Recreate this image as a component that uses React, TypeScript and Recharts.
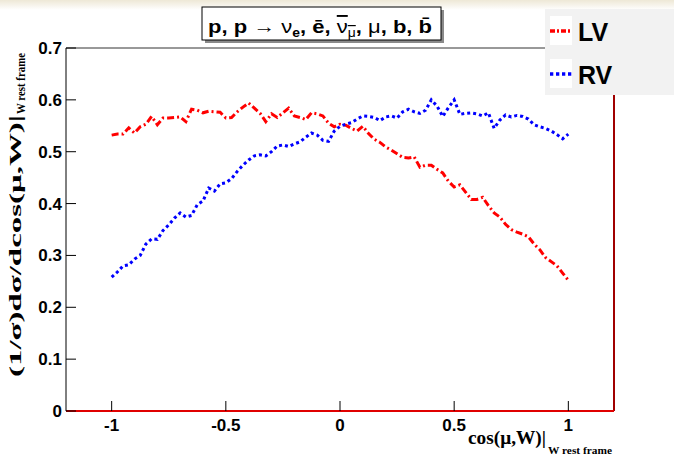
import React from 'react';
import { LineChart, Line, XAxis, YAxis, ReferenceLine, Legend, Customized } from 'recharts';

const cosValues = [-1, -0.975, -0.95, -0.925, -0.9, -0.875, -0.85, -0.825, -0.8, -0.775, -0.75, -0.725, -0.7, -0.675, -0.65, -0.625, -0.6, -0.575, -0.55, -0.525, -0.5, -0.475, -0.45, -0.425, -0.4, -0.375, -0.35, -0.325, -0.3, -0.275, -0.25, -0.225, -0.2, -0.175, -0.15, -0.125, -0.1, -0.075, -0.05, -0.025, 0, 0.025, 0.05, 0.075, 0.1, 0.125, 0.15, 0.175, 0.2, 0.225, 0.25, 0.275, 0.3, 0.325, 0.35, 0.375, 0.4, 0.425, 0.45, 0.475, 0.5, 0.525, 0.55, 0.575, 0.6, 0.625, 0.65, 0.675, 0.7, 0.725, 0.75, 0.775, 0.8, 0.825, 0.85, 0.875, 0.9, 0.925, 0.95, 0.975, 1];

const lvValues = [0.532, 0.534, 0.534, 0.546, 0.536, 0.548, 0.553, 0.568, 0.552, 0.565, 0.565, 0.566, 0.567, 0.558, 0.582, 0.58, 0.575, 0.578, 0.577, 0.576, 0.565, 0.566, 0.577, 0.586, 0.594, 0.584, 0.574, 0.558, 0.573, 0.566, 0.575, 0.584, 0.569, 0.566, 0.562, 0.575, 0.573, 0.569, 0.555, 0.548, 0.553, 0.551, 0.545, 0.54, 0.549, 0.535, 0.524, 0.518, 0.509, 0.503, 0.496, 0.489, 0.488, 0.49, 0.47, 0.474, 0.474, 0.466, 0.459, 0.443, 0.432, 0.436, 0.422, 0.408, 0.408, 0.412, 0.396, 0.382, 0.374, 0.36, 0.35, 0.345, 0.341, 0.336, 0.322, 0.311, 0.296, 0.288, 0.28, 0.266, 0.252];

const rvValues = [0.258, 0.268, 0.28, 0.282, 0.293, 0.3, 0.322, 0.332, 0.331, 0.348, 0.359, 0.372, 0.382, 0.374, 0.377, 0.398, 0.405, 0.43, 0.424, 0.438, 0.44, 0.448, 0.462, 0.474, 0.484, 0.492, 0.494, 0.492, 0.5, 0.511, 0.513, 0.51, 0.515, 0.519, 0.528, 0.536, 0.532, 0.522, 0.52, 0.54, 0.549, 0.553, 0.556, 0.563, 0.569, 0.568, 0.566, 0.56, 0.567, 0.569, 0.565, 0.577, 0.582, 0.577, 0.574, 0.58, 0.6, 0.588, 0.568, 0.585, 0.6, 0.572, 0.574, 0.575, 0.573, 0.569, 0.575, 0.545, 0.561, 0.571, 0.567, 0.57, 0.568, 0.563, 0.552, 0.548, 0.545, 0.54, 0.533, 0.525, 0.534];

const xTicks = [-1, -0.5, 0, 0.5, 1];
const xTickLabels = ['-1', '-0.5', '0', '0.5', '1'];
const xMinorTicks = [-1.1, -1, -0.9, -0.8, -0.7, -0.6, -0.5, -0.4, -0.3, -0.2, -0.1, 0, 0.1, 0.2, 0.3, 0.4, 0.5, 0.6, 0.7, 0.8, 0.9, 1, 1.1];
const yTicks = [0, 0.1, 0.2, 0.3, 0.4, 0.5, 0.6, 0.7];
const yTickLabels = ['0', '0.1', '0.2', '0.3', '0.4', '0.5', '0.6', '0.7'];
const yMinorTicks = [0, 0.02, 0.04, 0.06, 0.08, 0.1, 0.12, 0.14, 0.16, 0.18, 0.2, 0.22, 0.24, 0.26, 0.28, 0.3, 0.32, 0.34, 0.36, 0.38, 0.4, 0.42, 0.44, 0.46, 0.48, 0.5, 0.52, 0.54, 0.56, 0.58, 0.6, 0.62, 0.64, 0.66, 0.68, 0.7];

const data = cosValues.map((c, i) => ({ cos: c, LV: lvValues[i], RV: rvValues[i] }));

const SANS = '"Liberation Sans", Arial, Helvetica, sans-serif';
const SERIF = '"Liberation Serif", "Times New Roman", "DejaVu Serif", serif';

const XTick = (props: any) => {
  const { x, y, payload } = props;
  const idx = xTicks.indexOf(payload.value);
  return (
    <text x={x} y={y} dy={30} textAnchor="middle" fontFamily={SANS} fontWeight="bold" fontSize={17} fill="#000">
      {idx >= 0 ? xTickLabels[idx] : String(payload.value)}
    </text>
  );
};

const YTick = (props: any) => {
  const { x, y, payload } = props;
  const idx = yTicks.indexOf(payload.value);
  return (
    <text x={x} y={y} dx={-14} dy={6} textAnchor="end" fontFamily={SANS} fontWeight="bold" fontSize={17} fill="#000">
      {idx >= 0 ? yTickLabels[idx] : String(payload.value)}
    </text>
  );
};

const LegendContent = (props: any) => {
  const payload = props.payload || [];
  return (
    <div style={{ width: 129, height: 86, background: '#f2f2f2' }}>
      <svg width={129} height={86}>
        {payload.map((p: any, i: number) => (
          <g key={p.value} transform={`translate(0, ${i * 43})`}>
            <rect x={5} y={7} width={22} height={29} fill="#ffffff" />
            <line x1={5} x2={27} y1={22} y2={22} stroke={p.color} strokeWidth={3.5}
              strokeDasharray={p.value === 'LV' ? '5 2 2 2' : '3.3 2.7'} />
            <text x={33} y={32} fontFamily={SANS} fontWeight="bold" fontSize={25} fill="#000">{p.value}</text>
          </g>
        ))}
      </svg>
    </div>
  );
};

const Overlay = () => (
  <g>
    <rect x={205} y={10} width={239} height={33} fill="#8a8a8a" />
    <rect x={202} y={7} width={239} height={33} fill="#ffffff" stroke="#000" strokeWidth={1} />
    <text x={208} y={33} fontFamily={SANS} fontWeight="bold" fontSize={19} fill="#000" textLength={224} lengthAdjust="spacingAndGlyphs">
      <tspan>p, p </tspan>
      <tspan fontWeight="normal">{'\u2192 \u03BD'}</tspan>
      <tspan fontSize={12} dy={4}>e</tspan>
      <tspan dy={-4}>, {'\u0113'}, </tspan>
      <tspan fontWeight="normal" style={{ textDecoration: 'overline' }}>{'\u03BD'}</tspan>
      <tspan fontWeight="normal" fontSize={12} dy={4} style={{ textDecoration: 'overline' }}>{'\u03BC'}</tspan>
      <tspan dy={-4}>, </tspan>
      <tspan fontWeight="normal">{'\u03BC'}</tspan>
      <tspan>, b, b{'\u0304'}</tspan>
    </text>
    <text transform="rotate(-90)" x={-377} y={21} fontFamily={SERIF} fontWeight="bold" fontSize={16} fill="#000" textLength={262} lengthAdjust="spacingAndGlyphs">
      (1/{'\u03C3'})d{'\u03C3'}/dcos({'\u03BC'},W)|
    </text>
    <text transform="rotate(-90)" x={-114} y={25} fontFamily={SERIF} fontWeight="bold" fontSize={12} fill="#000" textLength={61} lengthAdjust="spacingAndGlyphs">
      W rest frame
    </text>
    <text x={468} y={444} fontFamily={SERIF} fontWeight="bold" fontSize={18} fill="#000" textLength={78} lengthAdjust="spacingAndGlyphs">
      cos({'\u03BC'},W)|
    </text>
    <text x={548} y={454} fontFamily={SERIF} fontWeight="bold" fontSize={11} fill="#000" textLength={64} lengthAdjust="spacingAndGlyphs">
      W rest frame
    </text>
  </g>
);

export default function App() {
  return (
    <div style={{ position: 'absolute', left: 0, top: 0, width: 674, height: 458, background: 'linear-gradient(#eee8d6 0px, #f6f3ea 5px, #ffffff 10px)' }}>
      <LineChart width={674} height={458} data={data} margin={{ top: 48, right: 60, bottom: 0, left: 0 }}>
        <XAxis xAxisId="minor" dataKey="cos" type="number" domain={[-1.2, 1.2]} allowDataOverflow
          ticks={xMinorTicks} tick={false} tickSize={-5} axisLine={false} height={0}
          tickLine={{ stroke: '#000', strokeWidth: 1 }} />
        <XAxis dataKey="cos" type="number" domain={[-1.2, 1.2]} allowDataOverflow ticks={xTicks}
          tickSize={-10} tickMargin={0} height={47} interval={0}
          axisLine={{ stroke: '#e00000', strokeWidth: 2 }} tickLine={{ stroke: '#000', strokeWidth: 1 }} tick={<XTick />} />
        <YAxis yAxisId="minor" type="number" domain={[0, 0.7]} allowDataOverflow ticks={yMinorTicks}
          tick={false} tickSize={-5} axisLine={false} width={0} tickLine={{ stroke: '#000', strokeWidth: 1 }} />
        <YAxis type="number" domain={[0, 0.7]} allowDataOverflow ticks={yTicks} tickSize={-10} tickMargin={0}
          width={66} interval={0} axisLine={{ stroke: '#000', strokeWidth: 1 }} tickLine={{ stroke: '#000', strokeWidth: 1 }} tick={<YTick />} />
        <ReferenceLine y={0.7} stroke="#333" strokeWidth={1} />
        <ReferenceLine x={1.2} stroke="#a00000" strokeWidth={2} />
        <Line dataKey="LV" name="LV" type="linear" stroke="#ff0000" strokeWidth={3} strokeDasharray="7 3 2 3" dot={false} isAnimationActive={false} />
        <Line dataKey="RV" name="RV" type="linear" stroke="#0000ff" strokeWidth={3} strokeDasharray="3 3" dot={false} isAnimationActive={false} />
        <Legend layout="vertical" align="center" verticalAlign="middle" content={<LegendContent />}
          wrapperStyle={{ position: 'absolute', left: 545, top: 9, width: 129, height: 86 }} />
        <Customized component={Overlay} />
      </LineChart>
    </div>
  );
}
